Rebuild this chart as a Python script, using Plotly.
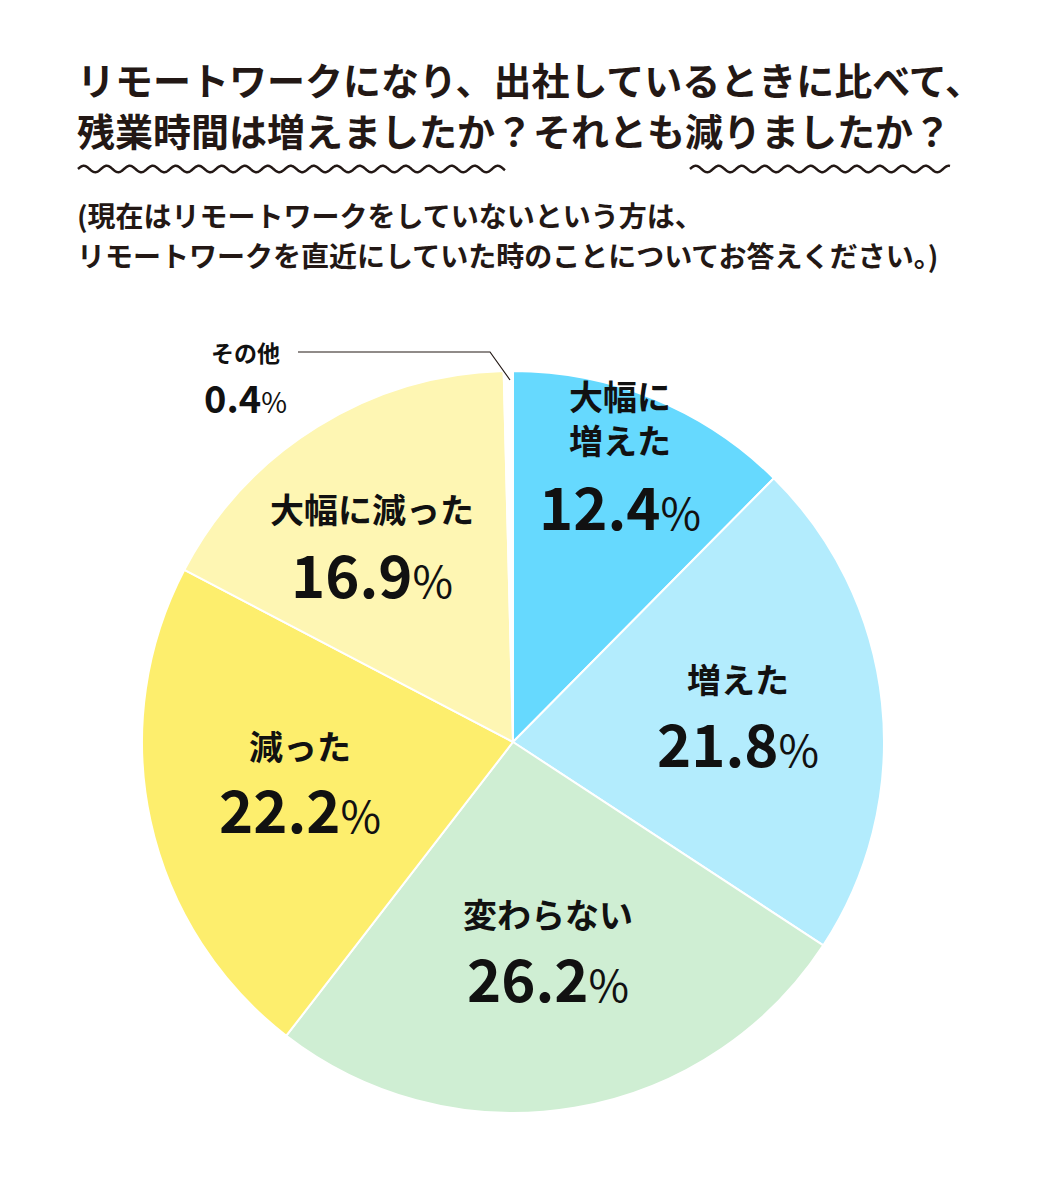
"""リモートワーク 残業時間アンケート 円グラフ"""

import numpy as np
import plotly.graph_objects as go

# ページ本体の余白 8px を差し引いたサイズ
OFF = 8
W, H = 1038 - OFF, 1200 - OFF

# データ
labels = ["大幅に増えた", "増えた", "変わらない", "減った", "大幅に減った", "その他"]
label_lines = ["大幅に<br>増えた", "増えた", "変わらない", "減った", "大幅に減った", "その他"]
values = [12.4, 21.8, 26.2, 22.2, 16.9, 0.4]
slice_colors = ["#66D9FE", "#B3ECFD", "#CFEED3", "#FDEE6D", "#FEF6B3", "#FFFFFF"]

TITLE = ["リモートワークになり、出社しているときに比べて、",
         "残業時間は増えましたか？それとも減りましたか？"]
NOTE = ["(現在はリモートワークをしていないという方は、",
        "リモートワークを直近にしていた時のことについてお答えください。)"]

INK = "#231815"
FONT = "Noto Sans CJK JP"

# ラベル位置（ピクセル）: 中心x, 名前の中心y, 数値の中心y
LABEL_POS = [(620, 418, 505), (738, 678, 742), (548, 913, 977),
             (300, 745, 808), (372, 508, 573), (245, 352, 396)]


def px(x, y):
    return (x - OFF) / W, 1 - (y - OFF) / H


def wave_path(x0, x1, y, period=23.0, amp=3.2):
    xs = np.linspace(x0, x1, int((x1 - x0) * 2))
    ys = y + amp * np.sin((xs - x0) / period * 2 * np.pi + np.pi)
    pts = [px(a, b) for a, b in zip(xs, ys)]
    return "M " + " L ".join(f"{a:.5f},{b:.5f}" for a, b in pts)


cx, cy, r = 513, 742, 371
x0, yt = px(cx - r, cy - r)
x1, yb = px(cx + r, cy + r)

fig = go.Figure(
    go.Pie(
        labels=labels,
        values=values,
        sort=False,
        direction="clockwise",
        rotation=0,
        marker=dict(colors=slice_colors, line=dict(color="white", width=2)),
        textinfo="none",
        hoverinfo="label+percent",
        showlegend=False,
        domain=dict(x=[x0, x1], y=[yb, yt]),
    )
)

annotations = []
# タイトル
for i, line in enumerate(TITLE):
    x, y = px(75, 78 + i * 52)
    annotations.append(dict(x=x, y=y, text=line, xanchor="left", yanchor="middle",
                            font=dict(family=FONT, size=38, color=INK, weight="bold")))
# 注記
for i, line in enumerate(NOTE):
    x, y = px(75, 215 + i * 40)
    annotations.append(dict(x=x, y=y, text=line, xanchor="left", yanchor="middle",
                            font=dict(family=FONT, size=28, color=INK, weight="bold")))

# スライスのラベル
for name, val, (lx, ny, vy) in zip(label_lines, values, LABEL_POS):
    small = name == "その他"
    nx_, ny_ = px(lx, ny)
    annotations.append(dict(x=nx_, y=ny_, text=name, xanchor="center", yanchor="middle",
                            font=dict(family=FONT, size=23 if small else 34, color="#111",
                                      weight="bold")))
    vx_, vy_ = px(lx, vy)
    pct_size = 28 if small else 44
    annotations.append(dict(
        x=vx_, y=vy_, xanchor="center", yanchor="middle",
        text=f"{val:.1f}<span style='font-size:{pct_size}px;font-weight:normal'>%</span>",
        font=dict(family=FONT, size=38 if small else 58, color="#111", weight="bold")))

for a in annotations:
    a.update(xref="paper", yref="paper", showarrow=False)

shapes = [
    dict(type="path", path=wave_path(78, 505, 169), line=dict(color=INK, width=2.5)),
    dict(type="path", path=wave_path(690, 950, 169), line=dict(color=INK, width=2.5)),
]
# その他の引き出し線
p1, p2, p3 = px(298, 352), px(490, 352), px(510, 380)
shapes.append(dict(type="path",
                   path=f"M {p1[0]},{p1[1]} L {p2[0]},{p2[1]} L {p3[0]},{p3[1]}",
                   line=dict(color=INK, width=1.2)))
for s in shapes:
    s.update(xref="paper", yref="paper")

fig.update_layout(
    width=W,
    height=H,
    margin=dict(l=0, r=0, t=0, b=0),
    paper_bgcolor="white",
    plot_bgcolor="white",
    annotations=annotations,
    shapes=shapes,
)

fig.write_html("out.html")
